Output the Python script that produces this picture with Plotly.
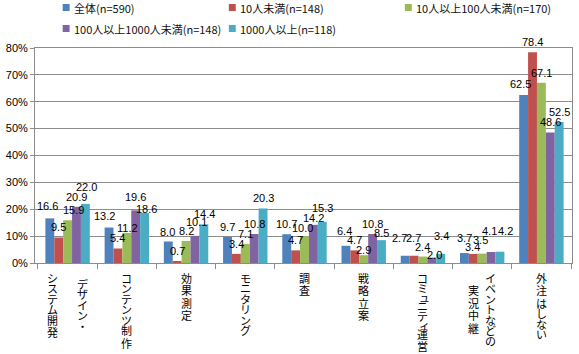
import plotly.graph_objects as go

categories = ["システム開発・デザイン", "コンテンツ制作", "効果測定", "モニタリング", "調査",
              "戦略立案", "コミュニティ運営", "イベントなどの実況中継", "外注はしない"]
# vertical label columns (right column first, as read in Japanese vertical writing)
label_columns = [["デザイン・", "システム開発"], ["コンテンツ制作"], ["効果測定"], ["モニタリング"], ["調査"],
                 ["戦略立案"], ["コミュニティ運営"], ["イベントなどの", "実況中継"], ["外注はしない"]]

series_names = ["全体(n=590)", "10人未満(n=148)", "10人以上100人未満(n=170)",
                "100人以上1000人未満(n=148)", "1000人以上(n=118)"]
series_values = [
    [16.6, 13.2, 8.0, 9.7, 10.7, 6.4, 2.7, 3.7, 62.5],
    [9.5, 5.4, 0.7, 3.4, 4.7, 4.7, 2.7, 3.4, 78.4],
    [15.9, 11.2, 8.2, 7.1, 10.0, 2.9, 2.4, 3.5, 67.1],
    [20.9, 19.6, 10.1, 10.8, 14.2, 10.8, 2.0, 4.1, 48.6],
    [22.0, 18.6, 14.4, 20.3, 15.3, 8.5, 3.4, 4.2, 52.5],
]
colors = ["#4F81BD", "#C0504D", "#9BBB59", "#8064A2", "#4BACC6"]

# ---- styling / layout (pixels) ----
font_main = "Noto Sans CJK JP, sans-serif"
font_num = "Liberation Sans, Arial, sans-serif"
W, H = 579, 354
ML, MR, MT, MB = 30, 6, 48, 91
BARGAP = 0.25
plot_w = W - ML - MR
plot_h = H - MT - MB
cat_w = plot_w / len(categories)
bar_w = cat_w * (1 - BARGAP) / len(series_names)

# data-label nudges (category index, series index) -> (dx px, extra rise px), mimicking the original placement
label_nudge = {
    (0, 0): (-2, 2), (0, 2): (5.5, 0), (0, 4): (1, 7),
    (1, 0): (-4.5, 2), (1, 2): (1, -5), (1, 3): (0, 3), (1, 4): (1.5, -6),
    (2, 3): (1, 4),
    (4, 2): (-2.5, -1.5), (4, 3): (0, -3.5), (4, 4): (0, 3.5),
    (5, 0): (-1, 4.5), (5, 2): (0, -5), (5, 4): (0, -2.5),
    (6, 0): (-5.5, 7.5), (6, 1): (0, 7.5), (6, 3): (2.5, -7.5), (6, 4): (0, 8),
    (7, 0): (0, 5), (7, 1): (-1, -3.5), (7, 2): (-1.5, 3.5), (7, 3): (-1.5, 11), (7, 4): (5, 11),
    (8, 0): (-3, 1),
}
col_offsets = {0: [15, -15], 7: [8, -9]}

def px_to_paper(x, y):
    return (x - ML) / plot_w, (H - MB - y) / plot_h

fig = go.Figure()
for name, vals, c in zip(series_names, series_values, colors):
    fig.add_trace(go.Bar(x=categories, y=vals, name=name, marker_color=c, marker_line_width=0,
                         showlegend=False))

annotations = []
shapes = []
# data labels on top of all bars
for i, vals in enumerate(series_values):
    off = (i - (len(series_names) - 1) / 2) * bar_w
    for ci, (cat, v) in enumerate(zip(categories, vals)):
        dx, dy = label_nudge.get((ci, i), (0, 0))
        annotations.append(dict(
            x=cat, xref="x", y=v, yref="y", xanchor="center", yanchor="middle",
            xshift=off + dx, yshift=10 + dy, text=f"{v:.1f}", showarrow=False,
            font=dict(size=11, color="#000", family=font_num),
        ))

# vertical category labels
small = set("ァィゥェォャュョッ")
def slot(ch):
    if ch in small:
        return 7
    if "\u4e00" <= ch <= "\u9fff":
        return 12.5
    return 10.5

top_px = 272 - (H - MB)
for ci, (cat, cols) in enumerate(zip(categories, label_columns)):
    heights = [sum(slot(ch) for ch in col[:-1]) + 10 for col in cols]
    hmax = max(heights)
    offs = col_offsets.get(ci, [0])
    for j, col in enumerate(cols):
        y0 = top_px + (hmax - heights[j]) / 2
        acc = 0
        for ch in col:
            sx, sy = (2, 1.5) if ch in small else (0, 0)
            annotations.append(dict(
                x=cat, xref="x", y=0, yref="paper", xanchor="center", yanchor="middle",
                xshift=offs[j] + sx, yshift=-(y0 + acc + 5.5) + sy, text=ch, showarrow=False,
                font=dict(size=11, color="#000", family=font_main),
            ))
            acc += slot(ch)

# legend (two rows, as in the original)
legend_pos = [(58, 7.5), (226, 7.5), (404, 7.5), (58, 28.5), (226, 28.5)]
for (lx, ly), name, c in zip(legend_pos, series_names, colors):
    x0, y0 = px_to_paper(lx, ly - 3.5)
    x1, y1 = px_to_paper(lx + 7, ly + 3.5)
    shapes.append(dict(type="rect", xref="paper", yref="paper", x0=x0, x1=x1, y0=y1, y1=y0,
                       fillcolor=c, line=dict(width=0)))
    tx, ty = px_to_paper(lx + 9, ly)
    annotations.append(dict(x=tx, y=ty, xref="paper", yref="paper", xanchor="left", yanchor="middle",
                            text=name, showarrow=False,
                            font=dict(size=11, color="#111", family=font_main)))

fig.update_layout(
    width=W, height=H,
    margin=dict(l=ML, r=MR, t=MT, b=MB),
    paper_bgcolor="white", plot_bgcolor="white",
    barmode="group", bargap=BARGAP, bargroupgap=0,
    font=dict(family=font_main, size=11, color="#000"),
    showlegend=False,
    annotations=annotations,
    shapes=shapes,
)
fig.update_yaxes(range=[0, 80], dtick=10, ticksuffix="%", showgrid=True, gridcolor="#8c8c8c", gridwidth=1,
                 showline=True, linecolor="#8c8c8c", mirror=True, ticks="outside", ticklen=4,
                 tickcolor="#8c8c8c", tickfont=dict(size=11, family=font_num, color="#000"), zeroline=False)
fig.update_xaxes(showticklabels=False, showline=True, linecolor="#8c8c8c", mirror=True,
                 ticks="outside", ticklen=5, tickcolor="#8c8c8c", tickson="boundaries")

fig.write_html("out.html")
